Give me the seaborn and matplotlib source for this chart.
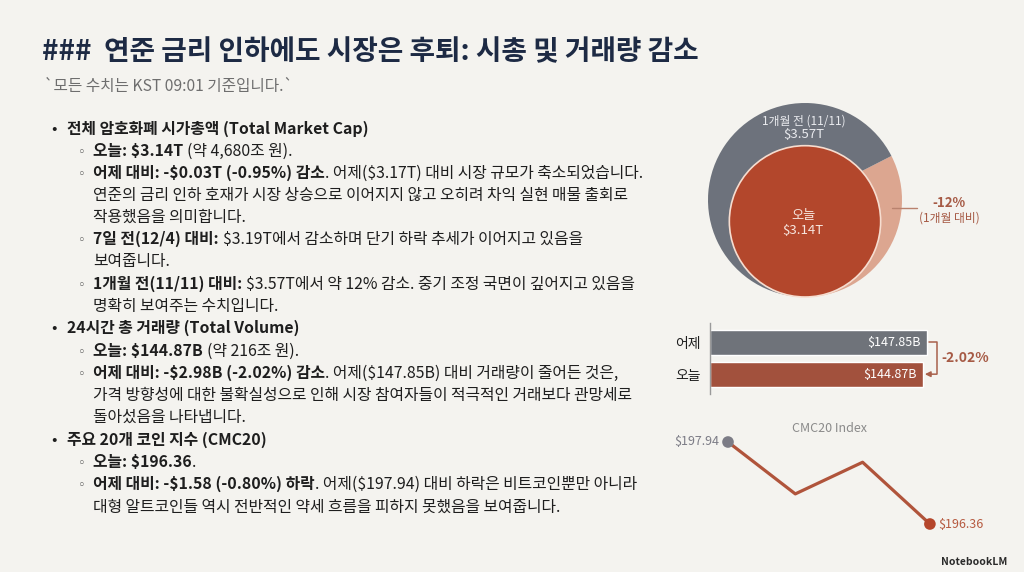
import matplotlib
matplotlib.use("Agg")
import matplotlib.pyplot as plt
import seaborn as sns
import pandas as pd

# ---------------- data ----------------
title_text = "###  연준 금리 인하에도 시장은 후퇴: 시총 및 거래량 감소"
subtitle_text = "`모든 수치는 KST 09:01 기준입니다.`"

mcap_labels = ["1개월 전 (11/11)", "오늘"]
mcap_values = [3.57, 3.14]            # $T
mcap_change_label = ["-12%", "(1개월 대비)"]
outer_shares = [0.34, 0.66]           # pink / gray portions of outer ring

vol_labels = ["어제", "오늘"]
vol_values = [147.85, 144.87]         # $B
vol_change = "-2.02%"

cmc_title = "CMC20 Index"
cmc_steps = [0, 1, 2, 3]
cmc_values = [197.94, 196.94, 197.55, 196.36]

# body lines: (y, kind, parts)  kind: 'main' bullet, 'sub' bullet, 'cont' continuation
body = [
    (128, "main", [("전체 암호화폐 시가총액 (Total Market Cap)", "bold")]),
    (150, "sub", [("오늘: $3.14T", "bold"), (" (약 4,680조 원).", "normal")]),
    (172, "sub", [("어제 대비: -$0.03T (-0.95%) 감소", "bold"), (". 어제($3.17T) 대비 시장 규모가 축소되었습니다.", "normal")]),
    (194, "cont", [("연준의 금리 인하 호재가 시장 상승으로 이어지지 않고 오히려 차익 실현 매물 출회로", "normal")]),
    (216, "cont", [("작용했음을 의미합니다.", "normal")]),
    (238, "sub", [("7일 전(12/4) 대비:", "bold"), (" $3.19T에서 감소하며 단기 하락 추세가 이어지고 있음을", "normal")]),
    (260, "cont", [("보여줍니다.", "normal")]),
    (283, "sub", [("1개월 전(11/11) 대비:", "bold"), (" $3.57T에서 약 12% 감소. 중기 조정 국면이 깊어지고 있음을", "normal")]),
    (305, "cont", [("명확히 보여주는 수치입니다.", "normal")]),
    (327, "main", [("24시간 총 거래량 (Total Volume)", "bold")]),
    (350, "sub", [("오늘: $144.87B", "bold"), (" (약 216조 원).", "normal")]),
    (372, "sub", [("어제 대비: -$2.98B (-2.02%) 감소", "bold"), (". 어제($147.85B) 대비 거래량이 줄어든 것은,", "normal")]),
    (394, "cont", [("가격 방향성에 대한 불확실성으로 인해 시장 참여자들이 적극적인 거래보다 관망세로", "normal")]),
    (416, "cont", [("돌아섰음을 나타냅니다.", "normal")]),
    (439, "main", [("주요 20개 코인 지수 (CMC20)", "bold")]),
    (461, "sub", [("오늘: $196.36", "bold"), (".", "normal")]),
    (483, "sub", [("어제 대비: -$1.58 (-0.80%) 하락", "bold"), (". 어제($197.94) 대비 하락은 비트코인뿐만 아니라", "normal")]),
    (506, "cont", [("대형 알트코인들 역시 전반적인 약세 흐름을 피하지 못했음을 보여줍니다.", "normal")]),
]

# ---------------- style ----------------
BG = "#F4F3EF"
NAVY = "#1D2A44"
TEXT = "#1E1E1E"
GRAY = "#6D727C"
PINK = "#DCA690"
RUST = "#B3472C"
RUST_TXT = "#A65A45"

sns.set_theme(style="white")
plt.rcParams["font.family"] = ["Noto Sans CJK KR", "DejaVu Sans"]
plt.rcParams["axes.facecolor"] = BG

W, H = 1024, 572
fig = plt.figure(figsize=(W / 100, H / 100), dpi=100, facecolor=BG)
renderer = fig.canvas.get_renderer()


def fx(x):
    return x / W


def fy(y):
    return 1 - y / H


# title & subtitle
fig.text(fx(42), fy(52), title_text, fontsize=20, fontweight="bold", color=NAVY,
         va="center", ha="left")
fig.text(fx(44), fy(87), subtitle_text, fontsize=11.3, color="#6E6E6E", va="center", ha="left")

# body text
FS = 11.4
space_px = 0.25 * FS * 100 / 72
for y, kind, parts in body:
    base = fy(y + 6)
    if kind == "main":
        fig.text(fx(51), base, "•", fontsize=FS, color=TEXT, va="baseline", ha="left")
        cur = 67
    elif kind == "sub":
        fig.text(fx(78), base, "◦", fontsize=FS - 2, color="#555555", va="baseline", ha="left",
                 family=["DejaVu Sans"])
        cur = 93
    else:
        cur = 93
    for txt, wt in parts:
        if txt.startswith(" "):
            cur += space_px
            txt = txt.lstrip()
        t = fig.text(fx(cur), base, txt, fontsize=FS, fontweight=wt, color=TEXT,
                     va="baseline", ha="left")
        bb = t.get_window_extent(renderer=renderer)
        cur = bb.x1

# ---------------- pie (market cap) ----------------
cx, cy, R = 805, 200, 97
ax_pie = fig.add_axes([fx(cx - R), fy(cy + R), 2 * R / W, 2 * R / H])
ax_pie.pie(outer_shares, colors=[PINK, GRAY], startangle=27, counterclock=False, radius=1,
           wedgeprops=dict(linewidth=0))
r_in = 0.78
ax_pie.pie([1], colors=[RUST], radius=r_in, center=(0, r_in - 1),
           wedgeprops=dict(edgecolor="#F6DDD0", linewidth=1.2))
ax_pie.set_xlim(-1, 1)
ax_pie.set_ylim(-1, 1)
ax_pie.set_aspect("equal")
ax_pie.axis("off")


def pd_(px_x, px_y):
    return (px_x - cx) / R, (cy - px_y) / R


ax_pie.text(*pd_(804, 121), mcap_labels[0], fontsize=8.5, color="#E9EAEE", ha="center", va="center")
ax_pie.text(*pd_(804, 135), f"${mcap_values[0]:.2f}T", fontsize=9.5, color="#E9EAEE", ha="center", va="center")
ax_pie.text(*pd_(803, 215), mcap_labels[1], fontsize=9.5, color="#F7E6DF", ha="center", va="center")
ax_pie.text(*pd_(803, 230), f"${mcap_values[1]:.2f}T", fontsize=9.5, color="#F7E6DF", ha="center", va="center")
x0, y0 = pd_(892, 208)
x1, _ = pd_(917, 208)
ax_pie.plot([x0, x1], [y0, y0], color="#B9826E", lw=1, clip_on=False)
ax_pie.text(*pd_(949, 203), mcap_change_label[0], fontsize=9.5, fontweight="bold", color=RUST_TXT,
            ha="center", va="center")
ax_pie.text(*pd_(949, 218), mcap_change_label[1], fontsize=8.5, color=RUST_TXT, ha="center", va="center")

# ---------------- bars (volume) ----------------
ppu = 1.468   # px per $B
bx0 = 710
ax_bar = fig.add_axes([fx(bx0), fy(394), 240 / W, 71 / H])
vol_df = pd.DataFrame({"label": vol_labels, "value": vol_values})
sns.barplot(data=vol_df, x="value", y="label", hue="label", palette=[GRAY, RUST], orient="h",
            width=0.78, legend=False, ax=ax_bar)
ax_bar.set_xlim(0, 240 / ppu)
ax_bar.set_ylim(1.62, -0.6)
ax_bar.set_xlabel("")
ax_bar.set_ylabel("")
ax_bar.set_xticks([])
for s in ["top", "right", "bottom"]:
    ax_bar.spines[s].set_visible(False)
ax_bar.spines["left"].set_color("#9A9A9A")
ax_bar.spines["left"].set_linewidth(1)
ax_bar.tick_params(axis="y", length=0, pad=7, labelsize=10, labelcolor=TEXT)
for i, v in enumerate(vol_values):
    ax_bar.text(v - 4, i, f"${v:.2f}B", color="white", fontsize=9, ha="right", va="center")
bx = max(vol_values) + 6.5
ax_bar.plot([vol_values[0] + 1.5, bx, bx], [0, 0, 1], color="#A8604B", lw=1.1, clip_on=False)
ax_bar.annotate("", xy=(vol_values[1] + 1.5, 1), xytext=(bx, 1),
                arrowprops=dict(arrowstyle="-|>", color="#A8604B", lw=1.1, mutation_scale=8,
                                shrinkA=0, shrinkB=0), annotation_clip=False)
ax_bar.text(bx + 3.5, 0.5, vol_change, fontsize=10, fontweight="bold", color=RUST_TXT,
            ha="left", va="center", clip_on=False)

# ---------------- line (CMC20) ----------------
lx0, step_px = 728, 67.3
a = 0.3
ypu = 51.9
y_top, y_bot = 198.1, 196.2
ax_line = fig.add_axes([fx(lx0 - a * step_px), fy(524 + (cmc_values[-1] - y_bot) * ypu),
                        (3 + 2 * a) * step_px / W, (y_top - y_bot) * ypu / H])
cmc_df = pd.DataFrame({"step": cmc_steps, "value": cmc_values})
sns.lineplot(data=cmc_df, x="step", y="value", color="#B0543B", lw=2.3, ax=ax_line)
ends = cmc_df.iloc[[0, -1]].copy()
ends["who"] = ["start", "end"]
sns.scatterplot(data=ends, x="step", y="value", hue="who", palette=["#7C7C86", "#B5462B"],
                s=70, edgecolor="none", legend=False, ax=ax_line, zorder=5)
ax_line.set_xlim(-a, 3 + a)
ax_line.set_ylim(y_bot, y_top)
ax_line.axis("off")
ax_line.text(cmc_steps[0] - 0.13, cmc_values[0], f"${cmc_values[0]:.2f}", fontsize=9, color="#7C7C86",
             ha="right", va="center")
ax_line.text(cmc_steps[-1] + 0.13, cmc_values[-1], f"${cmc_values[-1]:.2f}", fontsize=9, color="#B65A40",
             ha="left", va="center")
fig.text(fx(830), fy(428), cmc_title, fontsize=9, color="#8A8A8A", ha="center", va="center")

# watermark
fig.text(fx(1007), fy(562), "NotebookLM", fontsize=7.5, fontweight="bold", color="#2A2A2A",
         ha="right", va="center")

fig.savefig("out.png", dpi=100, facecolor=BG)
